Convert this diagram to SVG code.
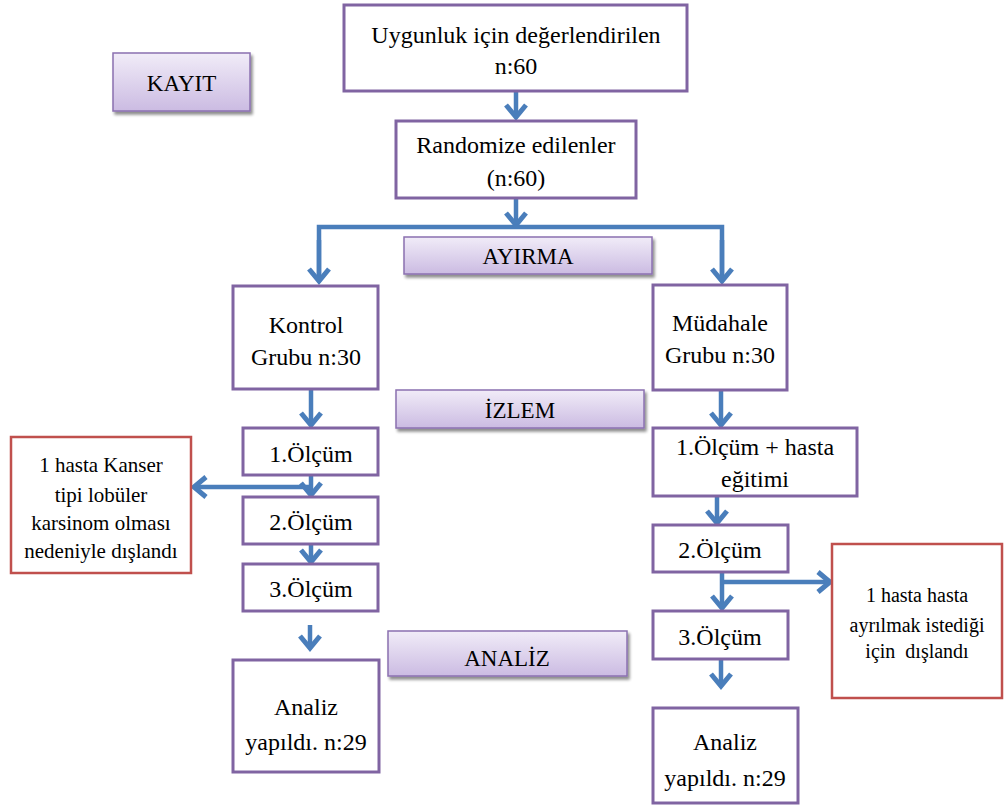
<svg xmlns="http://www.w3.org/2000/svg" width="1004" height="808" viewBox="0 0 1004 808">
<defs>
<linearGradient id="lav" x1="0" y1="0" x2="0" y2="1">
<stop offset="0" stop-color="#f1ecf8"/>
<stop offset="1" stop-color="#cbbbe2"/>
</linearGradient>
<filter id="sh" x="-10%" y="-20%" width="130%" height="160%">
<feGaussianBlur in="SourceAlpha" stdDeviation="1.5"/>
<feOffset dx="2" dy="3" result="b"/>
<feComponentTransfer><feFuncA type="linear" slope="0.45"/></feComponentTransfer>
<feMerge><feMergeNode/><feMergeNode in="SourceGraphic"/></feMerge>
</filter>
<marker id="chev" viewBox="-16 -14 20 28" markerWidth="20" markerHeight="28" refX="0" refY="0" orient="auto" markerUnits="userSpaceOnUse">
<path d="M-12,-10 L0,0 L-12,10" fill="none" stroke="#4a7ebb" stroke-width="5"/>
</marker>
</defs>
<style>
.box{fill:#ffffff;stroke:#8064a2;stroke-width:3}
.red{fill:#ffffff;stroke:#c0504d;stroke-width:2.5}
.lab{fill:url(#lav);stroke:#8b70b0;stroke-width:1.5;filter:url(#sh)}
.tx text{fill:#000;text-anchor:middle}
.t24{font-size:24px}
.t23{font-size:23px}
.t21{font-size:21px}
.t20{font-size:20px}
.con{fill:none;stroke:#4a7ebb;stroke-width:4.5}
.arr{marker-end:url(#chev)}
</style>
<g id="connectors">
<line class="con arr" x1="516" y1="92" x2="516" y2="117"/>
<line class="con arr" x1="516" y1="198" x2="516" y2="225"/>
<polyline class="con" points="319,280 319,227 722,227 722,280"/>
<line class="con arr" x1="319" y1="240" x2="319" y2="281"/>
<line class="con arr" x1="722" y1="240" x2="722" y2="281"/>
<line class="con arr" x1="311" y1="390" x2="311" y2="425"/>
<line class="con arr" x1="311" y1="475" x2="311" y2="495"/>
<line class="con arr" x1="313" y1="487" x2="194" y2="487"/>
<line class="con arr" x1="311" y1="544" x2="311" y2="562"/>
<line class="con arr" x1="310" y1="625" x2="310" y2="648"/>
<line class="con arr" x1="721" y1="390" x2="721" y2="425"/>
<line class="con arr" x1="717" y1="496" x2="717" y2="523"/>
<line class="con arr" x1="722" y1="573" x2="722" y2="608"/>
<line class="con arr" x1="720" y1="582" x2="830" y2="582"/>
<line class="con arr" x1="721" y1="660" x2="721" y2="686"/>
</g>
<g class="tx" font-family="'Liberation Serif', 'Times New Roman', 'DejaVu Serif', serif">
<g id="kayit">
<rect class="lab" x="113" y="53" width="137" height="58"/>
<text class="t23" x="181.5" y="91">KAYIT</text>
</g>
<g id="uygunluk">
<rect class="box" x="344" y="5" width="343" height="86"/>
<text class="t24" x="516" y="43">Uygunluk için değerlendirilen</text>
<text class="t24" x="516" y="74">n:60</text>
</g>
<g id="randomize">
<rect class="box" x="396" y="121" width="240" height="77"/>
<text class="t24" x="516" y="153">Randomize edilenler</text>
<text class="t24" x="516" y="186">(n:60)</text>
</g>
<g id="ayirma">
<rect class="lab" x="404" y="237" width="248" height="37"/>
<text class="t23" x="528" y="264">AYIRMA</text>
</g>
<g id="kontrol">
<rect class="box" x="233" y="286" width="145" height="103"/>
<text class="t24" x="306" y="333">Kontrol</text>
<text class="t24" x="306" y="365">Grubu n:30</text>
</g>
<g id="mudahale">
<rect class="box" x="653" y="285" width="134" height="105"/>
<text class="t24" x="720" y="331">Müdahale</text>
<text class="t24" x="720" y="363">Grubu n:30</text>
</g>
<g id="izlem">
<rect class="lab" x="396" y="390" width="248" height="38"/>
<text class="t23" x="520" y="418">İZLEM</text>
</g>
<g id="k-olcum1">
<rect class="box" x="243" y="428" width="135" height="47"/>
<text class="t24" x="311" y="462">1.Ölçüm</text>
</g>
<g id="k-red">
<rect class="red" x="11" y="437" width="180" height="136"/>
<text class="t21" x="101" y="472">1 hasta Kanser</text>
<text class="t21" x="101" y="502">tipi lobüler</text>
<text class="t21" x="101" y="530">karsinom olması</text>
<text class="t21" x="101" y="558">nedeniyle dışlandı</text>
</g>
<g id="k-olcum2">
<rect class="box" x="243" y="497" width="135" height="47"/>
<text class="t24" x="311" y="530">2.Ölçüm</text>
</g>
<g id="k-olcum3">
<rect class="box" x="243" y="564" width="135" height="47"/>
<text class="t24" x="311" y="597">3.Ölçüm</text>
</g>
<g id="analiz-label">
<rect class="lab" x="388" y="631" width="239" height="45"/>
<text class="t23" x="507" y="666">ANALİZ</text>
</g>
<g id="k-analiz">
<rect class="box" x="233" y="660" width="146" height="112"/>
<text class="t24" x="306" y="715">Analiz</text>
<text class="t24" x="306" y="750">yapıldı. n:29</text>
</g>
<g id="m-olcum1">
<rect class="box" x="653" y="428" width="204" height="68"/>
<text class="t24" x="755" y="455">1.Ölçüm + hasta</text>
<text class="t24" x="755" y="487">eğitimi</text>
</g>
<g id="m-olcum2">
<rect class="box" x="653" y="525" width="135" height="47"/>
<text class="t24" x="720" y="558">2.Ölçüm</text>
</g>
<g id="m-red">
<rect class="red" x="832" y="544" width="170" height="154"/>
<text class="t20" x="917" y="602">1 hasta hasta</text>
<text class="t20" x="917" y="632">ayrılmak istediği</text>
<text class="t20" x="917" y="658" xml:space="preserve">için  dışlandı</text>
</g>
<g id="m-olcum3">
<rect class="box" x="653" y="611" width="135" height="48"/>
<text class="t24" x="720" y="645">3.Ölçüm</text>
</g>
<g id="m-analiz">
<rect class="box" x="653" y="708" width="145" height="95"/>
<text class="t24" x="725" y="750">Analiz</text>
<text class="t24" x="725" y="786">yapıldı. n:29</text>
</g>
</g>
</svg>
